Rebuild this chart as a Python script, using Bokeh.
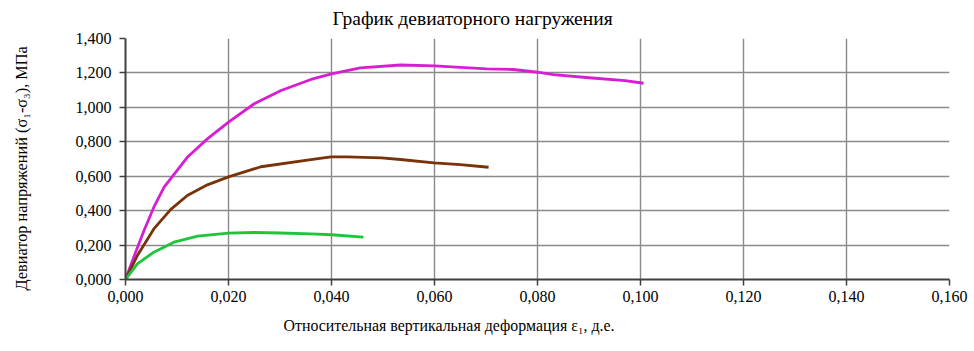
import math
from bokeh.plotting import figure
from bokeh.models import Range1d, FixedTicker, CustomJSTickFormatter, Title, LinearAxis
from bokeh.embed import file_html
from bokeh.resources import INLINE

title_text = "График девиаторного нагружения"
x_label_text = "Относительная вертикальная деформация ε₁, д.е."
y_label_text = "Девиатор напряжений (σ₁-σ₃), МПа"

x_ticks = [0.0, 0.02, 0.04, 0.06, 0.08, 0.10, 0.12, 0.14, 0.16]
y_ticks = [0.0, 0.2, 0.4, 0.6, 0.8, 1.0, 1.2, 1.4]

magenta_x = [0.0, 0.0016, 0.0036, 0.0055, 0.0075, 0.0120, 0.0159, 0.0200, 0.0250,
             0.0302, 0.0360, 0.0400, 0.0456, 0.0534, 0.0600, 0.0650, 0.0702, 0.0753,
             0.0800, 0.0831, 0.0900, 0.0970, 0.1006]
magenta_y = [0.0, 0.130, 0.285, 0.420, 0.536, 0.710, 0.817, 0.914, 1.021,
             1.098, 1.162, 1.195, 1.229, 1.246, 1.241, 1.232, 1.224, 1.220,
             1.204, 1.190, 1.172, 1.155, 1.140]

brown_x = [0.0, 0.0023, 0.0055, 0.0088, 0.0120, 0.0159, 0.0200, 0.0263, 0.0360,
           0.0399, 0.0430, 0.0497, 0.0534, 0.0599, 0.0650, 0.0705]
brown_y = [0.0, 0.139, 0.294, 0.407, 0.488, 0.550, 0.596, 0.655, 0.697,
           0.712, 0.712, 0.707, 0.697, 0.678, 0.667, 0.652]

green_x = [0.0, 0.0023, 0.0055, 0.0094, 0.0140, 0.0200, 0.0250, 0.0300, 0.0360,
           0.0400, 0.0462]
green_y = [0.0, 0.091, 0.159, 0.217, 0.252, 0.269, 0.273, 0.270, 0.265,
           0.260, 0.246]

serif = "Liberation Serif"

p = figure(width=974, height=351, output_backend="svg", toolbar_location=None,
           x_range=Range1d(0, 0.16), y_range=Range1d(0, 1.4),
           min_border_left=125, min_border_right=25, min_border_top=38,
           min_border_bottom=72)
p.outline_line_color = None
p.background_fill_color = "white"
p.border_fill_color = "white"

fmt = CustomJSTickFormatter(code="return tick.toFixed(3).replace('.', ',');")
for ax, ticks in ((p.xaxis[0], x_ticks), (p.yaxis[0], y_ticks)):
    ax.ticker = FixedTicker(ticks=ticks)
    ax.formatter = fmt
    ax.major_label_text_font = serif
    ax.major_label_text_font_size = "16px"
    ax.major_label_text_color = "black"
    ax.axis_line_color = "#404040"
    ax.axis_line_width = 2
    ax.major_tick_line_color = "#404040"
    ax.major_tick_line_width = 1.5
    ax.major_tick_out = 6
    ax.major_tick_in = 0
    ax.minor_tick_line_color = None
p.xaxis[0].major_label_standoff = 5
p.yaxis[0].major_label_standoff = 8

p.xgrid[0].ticker = FixedTicker(ticks=x_ticks)
p.ygrid[0].ticker = FixedTicker(ticks=y_ticks)
for g in (p.xgrid[0], p.ygrid[0]):
    g.grid_line_color = "#8a8a8a"
    g.grid_line_width = 1.4

p.line(magenta_x, magenta_y, line_color="#D81ED2", line_width=2.8, line_join="round")
p.line(brown_x, brown_y, line_color="#7A3208", line_width=2.8, line_join="round")
p.line(green_x, green_y, line_color="#1EC43A", line_width=2.8, line_join="round")

blank = CustomJSTickFormatter(code="return '';")


def spacer(size, tick):
    return LinearAxis(ticker=FixedTicker(ticks=[tick]), formatter=blank,
                      axis_line_color=None,
                      major_tick_out=size, major_tick_in=0, major_tick_line_color=None,
                      minor_tick_out=0, minor_tick_in=0, minor_tick_line_color=None,
                      major_label_standoff=0, major_label_text_font_size="1px")


p.add_layout(spacer(8, 0.08), "above")
p.add_layout(Title(text=title_text, text_font=serif, text_font_size="19.5px",
                   text_font_style="normal", text_color="black",
                   align="left", offset=207, standoff=4), "above")
p.add_layout(Title(text=x_label_text, text_font=serif, text_font_size="15.9px",
                   text_font_style="normal", text_color="black",
                   align="left", offset=158, standoff=21), "below")
p.add_layout(spacer(41, 0.7), "left")
p.add_layout(Title(text=y_label_text, text_font=serif, text_font_size="16.3px",
                   text_font_style="normal", text_color="black",
                   align="left", offset=-11, standoff=2), "left")

open("out.html", "w").write(file_html(p, INLINE))
